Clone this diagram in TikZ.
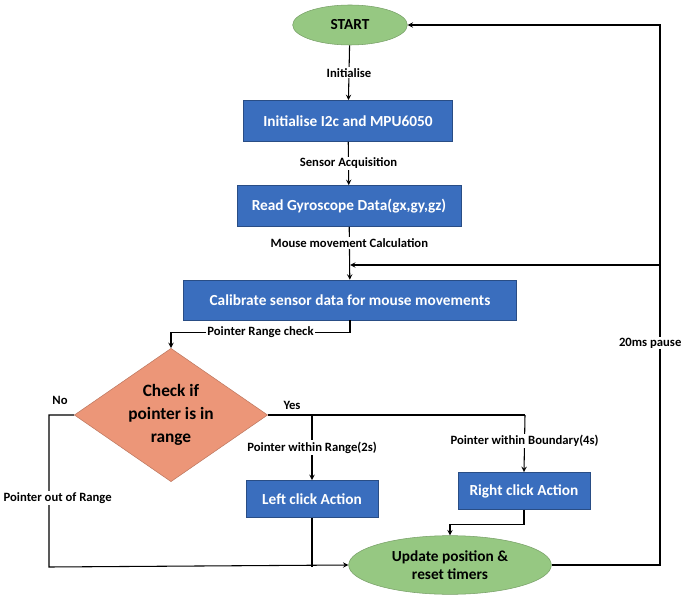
\documentclass[tikz,border=0pt]{standalone}
\usepackage{fontspec}
\setmainfont{Carlito}
\usetikzlibrary{shapes.geometric}
\definecolor{boxblue}{RGB}{58,110,190}
\definecolor{startgreen}{RGB}{150,200,130}
\definecolor{salmon}{RGB}{236,150,120}
\tikzset{
  proc/.style={draw=boxblue!70!black, fill=boxblue, text=white, font=\bfseries\fontsize{11.5}{13}\selectfont, inner sep=0pt},
  term/.style={ellipse, draw=startgreen!80!black, fill=startgreen, font=\bfseries\fontsize{11.5}{14}\selectfont, inner sep=0pt, align=center},
  lbl/.style={font=\bfseries\fontsize{9.5}{11}\selectfont, fill=white, inner sep=1pt},
  line/.style={thick},
}
\begin{document}
\begin{tikzpicture}[x=0.75pt, y=-0.75pt, >=stealth]
\useasboundingbox (0,0) rectangle (685,602);

\node[term, minimum width=86pt, minimum height=30pt] (start) at (350,25) {START};
\node[proc, minimum width=157pt, minimum height=31pt] (init) at (348,121) {Initialise I2c and MPU6050};
\node[proc, minimum width=168pt, minimum height=31pt] (read) at (349,206) {Read Gyroscope Data(gx,gy,gz)};
\node[proc, minimum width=250pt, minimum height=30pt] (calib) at (350,300) {Calibrate sensor data for mouse movements};
\node[diamond, draw=salmon!80!black, fill=salmon, aspect=1.45, minimum width=145pt, minimum height=100pt,
  font=\bfseries\fontsize{13}{17}\selectfont, align=center, inner sep=0pt] (check) at (171,415) {Check if\\pointer is in\\range};
\node[proc, minimum width=99pt, minimum height=28pt] (left) at (312,499) {Left click Action};
\node[proc, minimum width=99pt, minimum height=28pt] (right) at (524,491) {Right click Action};
\node[term, minimum width=152pt, minimum height=44pt] (update) at (450,565) {Update position \&\\reset timers};

\coordinate (loop) at (660,265);
\coordinate (yes) at (525,415);
\coordinate (split) at (312,415);

% main column
\draw[line,->] (start) -- node[lbl] {Initialise} (init);
\draw[line,->] (init) -- node[lbl] {Sensor Acquisition} (read);
\draw[line,->] (read) -- node[lbl, pos=0.3] {Mouse movement Calculation} (calib);
\draw[line,->] (calib.south) -- ++(0,12) -| node[lbl, pos=0.25] {Pointer Range check} (check.north);

% yes branch
\draw[line] (check.east) -- (yes);
\node[lbl] at (292,405) {Yes};
\draw[line,->] (split) -- node[lbl, pos=0.5] {Pointer within Range(2s)} (left.north);
\draw[line,->] (yes) -- node[lbl, pos=0.45] {Pointer within Boundary(4s)} (right.north);

% no branch
\node[lbl] at (60,400) {No};
\draw[line,->] (check.west) -- (49,415) -- (49,567) -- (update.west);
\node[lbl, anchor=west] at (2,498) {Pointer out of Range};
\draw[line] (left.south) -- (312,567);
\draw[line,->] (right.south) -- ++(0,15) -| (update.north);

% loop back
\draw[line,->] (update.east) -| (660,25) -- (start.east);
\node[lbl, anchor=east] at (683,343) {20ms pause};
\draw[line,->] (loop) -- (350,265);
\end{tikzpicture}
\end{document}
